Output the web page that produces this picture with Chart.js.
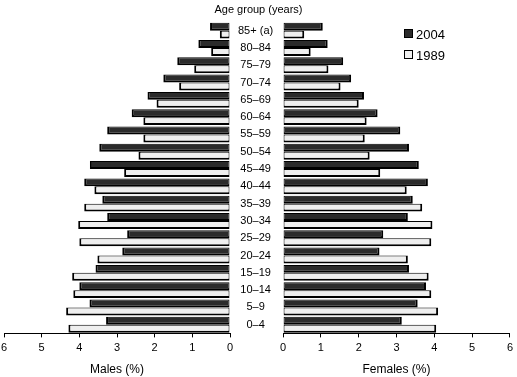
<!DOCTYPE html>
<html lang="en">
<head>
<meta charset="UTF-8">
<title>Population pyramid, 1989 and 2004</title>
<script src="https://cdn.jsdelivr.net/npm/chart.js"></script>
<style>
  body { margin: 0; background: #fff; font-family: Arial, "Liberation Sans", sans-serif; }
  #wrap { position: relative; width: 517px; height: 377px; }
  #left { position: absolute; left: 0; top: 0; }
  #right { position: absolute; left: 276px; top: 0; }
  #ageTitle { position: absolute; top: 3px; left: 0; width: 517px; text-align: center; font-size: 11px; }
  .leg { position: absolute; left: 404px; font-size: 13px; line-height: 14px; }
  .leg span.box { display: inline-block; width: 7px; height: 7px; border: 1px solid #000; margin-right: 3px; vertical-align: 1px; }
</style>
</head>
<body>
<div id="wrap">
  <canvas id="left" width="282" height="377"></canvas>
  <canvas id="right" width="241" height="377"></canvas>
  <div id="ageTitle">Age group (years)</div>
  <div class="leg" style="top:28px"><span class="box" style="background:#2b2b2b"></span>2004</div>
  <div class="leg" style="top:49px"><span class="box" style="background:#efefef"></span>1989</div>
</div>
<script>
// age groups, youngest first (drawn from the bottom up)
const ageGroups = ['0–4', '5–9', '10–14', '15–19', '20–24', '25–29', '30–34', '35–39', '40–44',
  '45–49', '50–54', '55–59', '60–64', '65–69', '70–74', '75–79', '80–84', '85+ (a)'];

// percentage of total population
const males2004   = [3.29, 3.73, 4.00, 3.57, 2.86, 2.73, 3.26, 3.39, 3.87, 3.72, 3.47, 3.26, 2.61, 2.19, 1.77, 1.40, 0.84, 0.53];
const males1989   = [4.29, 4.35, 4.16, 4.19, 3.52, 4.00, 4.03, 3.87, 3.60, 2.81, 2.43, 2.30, 2.30, 1.95, 1.35, 0.95, 0.50, 0.27];
const females2004 = [3.14, 3.56, 3.78, 3.33, 2.55, 2.65, 3.30, 3.43, 3.83, 3.59, 3.33, 3.10, 2.50, 2.14, 1.80, 1.59, 1.18, 1.05];
const females1989 = [4.05, 4.10, 3.92, 3.85, 3.30, 3.92, 3.95, 3.68, 3.27, 2.57, 2.29, 2.16, 2.21, 2.00, 1.52, 1.20, 0.73, 0.56];

const xTicks = [0, 1, 2, 3, 4, 5, 6];

Chart.defaults.font.family = 'Arial, "Liberation Sans", sans-serif';
Chart.defaults.font.size = 11;
Chart.defaults.color = '#000';

// outer end of each bar gets a slightly heavier edge, like the original
function datasets(v2004, v1989, outer) {
  const bw = { top: 1, bottom: 2, left: 1, right: 1 };
  bw[outer] = 2;
  return [
    { label: '2004', data: v2004, backgroundColor: '#2b2b2b', borderColor: '#000', borderWidth: bw,
      borderSkipped: false, categoryPercentage: 0.92, barPercentage: 1.0 },
    { label: '1989', data: v1989, backgroundColor: '#efefef', borderColor: '#000', borderWidth: bw,
      borderSkipped: false, categoryPercentage: 0.92, barPercentage: 1.0 }
  ];
}

function xAxis(title, reverse) {
  return {
    type: 'linear', min: 0, max: 6, reverse: reverse,
    afterBuildTicks: s => { s.ticks = xTicks.map(v => ({ value: v })); },
    grid: { drawOnChartArea: false, drawTicks: true, tickLength: 4, color: '#000' },
    border: { display: true, color: '#000', width: 1 },
    ticks: { padding: 4, font: { size: 11 } },
    title: { display: true, text: title, font: { size: 12 }, padding: { top: 4, bottom: 0 } }
  };
}

const common = {
  indexAxis: 'y',
  responsive: false,
  animation: false,
  plugins: { legend: { display: false }, tooltip: { enabled: false } }
};

new Chart(document.getElementById('left'), {
  type: 'bar',
  data: { labels: ageGroups, datasets: datasets(males2004, males1989, 'left') },
  options: Object.assign({}, common, {
    layout: { padding: { left: 4, top: 22, right: 0, bottom: 0 } },
    scales: {
      x: xAxis('Males (%)', true),
      y: {
        position: 'right', reverse: true,
        grid: { display: false }, border: { display: false },
        ticks: { crossAlign: 'center', padding: 0, font: { size: 11 } },
        afterFit: s => { s.width = 52; }
      }
    }
  })
});

new Chart(document.getElementById('right'), {
  type: 'bar',
  data: { labels: ageGroups, datasets: datasets(females2004, females1989, 'right') },
  options: Object.assign({}, common, {
    layout: { padding: { left: 4, top: 22, right: 4, bottom: 0 } },
    scales: {
      x: xAxis('Females (%)', false),
      y: { reverse: true, display: false }
    }
  })
});
</script>
</body>
</html>
